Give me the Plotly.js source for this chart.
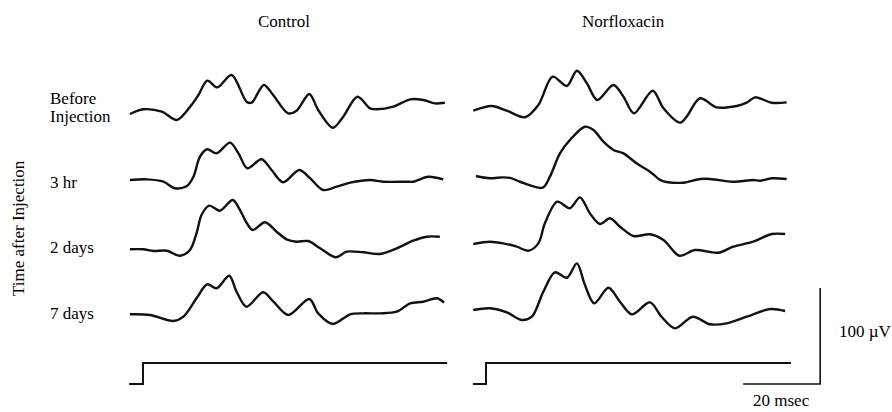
<!DOCTYPE html>
<html>
<head>
<meta charset="utf-8">
<script src="https://cdn.plot.ly/plotly-3.0.1.min.js"></script>
<style>
  html, body { margin: 0; padding: 0; background: #fff; }
  #chart { width: 892px; height: 412px; }
</style>
</head>
<body>
<div id="chart"></div>
<script>
// Averaged evoked potentials: time in msec from stimulus onset, amplitude in µV
const groups = ["Control", "Norfloxacin"];
const conditions = ["Before", "Injection", "3 hr", "2 days", "7 days"];
const axisLabel = "Time after Injection";

// Control
const ctlBeforeT = [-3.4, 0.1, 4.9, 8.8, 12.6, 14.4, 16.7, 19.3, 23.0, 26.9, 28.2, 31.4, 33.8, 37.7, 39.9, 43.2, 45.5, 49.3, 52.0, 55.7, 59.0, 60.7, 65.0, 69.4, 72.8, 75.8, 78.4];
const ctlBeforeV = [-2.1, 2.8, 0.3, -8.3, 7.3, 17.7, 32.6, 25.7, 38.5, 10.7, 9.7, 28.1, 17.7, -1.4, 1.4, 18.8, 2.1, -16.4, -4.9, 15.9, 3.8, 2.8, 5.5, 13.2, 12.5, 9.0, 9.7];

const ctl3hrT = [-3.4, 1.0, 5.3, 8.3, 11.4, 13.1, 14.8, 16.7, 19.1, 22.6, 24.8, 27.1, 30.8, 33.4, 36.4, 40.6, 43.4, 46.8, 50.3, 53.8, 59.0, 62.4, 68.5, 70.2, 74.1, 78.0];
const ctl3hrV = [0, 0.7, -1.8, -8.6, -6.3, 3.4, 24.3, 32.0, 27.8, 38.9, 27.8, 12.2, 21.6, 10.4, -2.4, 10.4, 1.8, -10.4, -6.9, -2.8, 0, -1.8, -1.8, -1.8, 3.4, 0.7];

const ctl2dT = [-3.4, 0.1, 2.7, 6.2, 9.6, 12.2, 13.9, 15.2, 17.2, 20.0, 23.3, 25.2, 27.0, 28.5, 31.7, 34.7, 37.3, 39.9, 42.9, 46.0, 50.1, 52.9, 57.2, 61.6, 65.9, 70.2, 73.7, 77.1];
const ctl2dV = [-0.3, -0.3, -2.1, -1.8, -7.0, -1.0, 16.4, 35.4, 45.1, 39.9, 51.0, 40.6, 26.8, 19.8, 27.8, 18.0, 10.1, 7.6, 8.3, 0.7, -8.6, -2.8, -3.4, -5.2, 0.7, 8.6, 12.8, 12.8];

const ctl7dT = [-3.4, 1.8, 7.9, 10.5, 13.9, 16.7, 19.1, 22.4, 24.3, 26.9, 31.2, 33.9, 37.7, 43.2, 45.5, 49.3, 53.8, 57.2, 61.6, 65.9, 69.4, 72.8, 76.4, 78.2];
const ctl7dV = [-0.3, -1.0, -7.3, -2.8, 16.4, 31.0, 26.8, 39.9, 23.2, 7.6, 22.6, 12.8, -1.0, 15.6, 0.7, -10.4, -0.3, 0.7, 0.7, 2.4, 11.1, 12.8, 16.4, 11.8];

// Norfloxacin
const norBeforeT = [-3.3, 1.5, 5.4, 10.1, 13.6, 17.3, 21.0, 23.6, 26.2, 28.9, 33.1, 35.7, 38.4, 43.3, 46.1, 50.4, 52.1, 55.6, 59.9, 65.1, 67.7, 69.9, 74.2, 78.1];
const norBeforeV = [-0.7, 4.2, -0.7, -7.6, 5.2, 34.7, 25.0, 40.9, 27.8, 10.4, 26.0, 13.9, -3.4, 20.1, 1.8, -13.2, -7.0, 12.2, 2.8, 4.2, 7.6, 13.2, 7.6, 8.0];

const nor3hrT = [-2.6, 1.0, 4.5, 6.7, 8.8, 14.7, 16.6, 19.2, 21.8, 25.7, 27.9, 30.5, 33.1, 35.7, 39.1, 42.6, 45.6, 51.2, 55.6, 58.2, 64.2, 69.4, 71.2, 74.2, 78.1];
const nor3hrV = [2.1, -0.3, 0.7, -0.3, -3.9, -10.1, 1.4, 25.7, 39.6, 53.4, 50.0, 37.8, 29.2, 25.7, 15.3, 6.6, -2.8, -4.9, -1.0, -1.0, -3.9, -2.1, -2.8, -0.3, -1.0];

const nor2dT = [-3.3, 1.0, 4.5, 8.0, 11.0, 13.6, 15.3, 18.5, 21.8, 24.4, 27.0, 29.6, 32.2, 34.8, 38.3, 42.6, 46.1, 50.2, 54.3, 60.3, 64.2, 69.4, 74.2, 77.7];
const nor2dV = [0, 2.4, 0.7, -2.8, -7.0, 0.7, 21.6, 44.1, 37.2, 48.6, 31.9, 20.8, 26.8, 18.0, 8.3, 10.1, 4.2, -12.2, -6.3, -9.1, -2.8, 2.4, 10.4, 10.4];

const nor7dT = [-3.3, 1.0, 5.4, 9.3, 11.9, 14.9, 17.9, 21.0, 23.6, 25.7, 28.1, 31.8, 34.8, 37.9, 42.6, 45.6, 49.1, 53.7, 58.2, 62.5, 67.7, 73.8, 77.7];
const nor7dV = [0, 1.8, -2.4, -10.4, -7.0, 19.1, 39.2, 33.6, 48.6, 26.0, 7.0, 23.2, 8.6, -4.5, 8.0, -7.0, -19.1, -7.0, -14.9, -13.9, -7.0, 1.0, -1.0];

// Stimulus marker (off / on)
const stimCtlT = [-3.6, 0, 0, 79.0];
const stimNorT = [-3.4, 0, 0, 79.2];
const stimLevel = [0, 0, 1, 1];

// Calibration
const scaleMs = 20;
const scaleUv = 100;
const scaleText = ["100 \u00b5V", "20 msec"];

// ---- page geometry ----
const W = 892, H = 412;
const PX_MS = 3.85;      // pixels per msec
const PX_UV = 0.96;      // pixels per µV
const PX_STIM = 21;      // pixels per stimulus step
const ONSET_CTL = 143, ONSET_NOR = 486;
const baseCtl = [112, 180, 249, 314];
const baseNor = [110, 178, 244, 310];
const stimBase = 384;
const barEnd = 86.8;     // ms position of the calibration corner

function xAx(onset, t0, t1) {
  return { range: [t0, t1], domain: [(onset + t0 * PX_MS) / W, (onset + t1 * PX_MS) / W],
           visible: false, fixedrange: true };
}
function yAx(base, v0, v1, ppu, anchor) {
  return { range: [v0, v1],
           domain: [(H - (base - v0 * ppu)) / H, (H - (base - v1 * ppu)) / H],
           visible: false, fixedrange: true, anchor: anchor };
}

const series = [
  [ctlBeforeT, ctlBeforeV, "x", "y"],
  [ctl3hrT, ctl3hrV, "x", "y2"],
  [ctl2dT, ctl2dV, "x", "y3"],
  [ctl7dT, ctl7dV, "x", "y4"],
  [norBeforeT, norBeforeV, "x2", "y5"],
  [nor3hrT, nor3hrV, "x2", "y6"],
  [nor2dT, nor2dV, "x2", "y7"],
  [nor7dT, nor7dV, "x2", "y8"]
];

const ink = "#111";
const traces = series.map(s => ({
  type: "scatter", mode: "lines", x: s[0], y: s[1], xaxis: s[2], yaxis: s[3],
  line: { color: ink, width: 2.4, shape: "spline", smoothing: 0.9 },
  hoverinfo: "skip", showlegend: false
}));

traces.push({ type: "scatter", mode: "lines", x: stimCtlT, y: stimLevel, xaxis: "x", yaxis: "y10",
  line: { color: ink, width: 2 }, hoverinfo: "skip", showlegend: false });
traces.push({ type: "scatter", mode: "lines", x: stimNorT, y: stimLevel, xaxis: "x2", yaxis: "y10",
  line: { color: ink, width: 2 }, hoverinfo: "skip", showlegend: false });
traces.push({ type: "scatter", mode: "lines",
  x: [barEnd - scaleMs, barEnd, barEnd], y: [0, 0, scaleUv], xaxis: "x2", yaxis: "y9",
  line: { color: ink, width: 1.6 }, hoverinfo: "skip", showlegend: false });

const font = { family: "Liberation Serif, Times New Roman, serif", size: 17, color: "#000" };
function note(text, px, py, xanchor, extra) {
  return Object.assign({ text: text, x: px / W, y: 1 - py / H, xref: "paper", yref: "paper",
    xanchor: xanchor, yanchor: "middle", showarrow: false, borderpad: 0, font: font }, extra || {});
}

const layout = {
  width: W, height: H,
  margin: { l: 0, r: 0, t: 0, b: 0 },
  paper_bgcolor: "#fff", plot_bgcolor: "rgba(0,0,0,0)",
  showlegend: false,
  xaxis: xAx(ONSET_CTL, -5, 82),
  xaxis2: xAx(ONSET_NOR, -5, 90),
  yaxis: yAx(baseCtl[0], -60, 60, PX_UV, "x"),
  yaxis2: yAx(baseCtl[1], -60, 60, PX_UV, "x"),
  yaxis3: yAx(baseCtl[2], -60, 60, PX_UV, "x"),
  yaxis4: yAx(baseCtl[3], -60, 60, PX_UV, "x"),
  yaxis5: yAx(baseNor[0], -60, 60, PX_UV, "x2"),
  yaxis6: yAx(baseNor[1], -60, 60, PX_UV, "x2"),
  yaxis7: yAx(baseNor[2], -60, 60, PX_UV, "x2"),
  yaxis8: yAx(baseNor[3], -60, 60, PX_UV, "x2"),
  yaxis9: yAx(stimBase, -5, 110, PX_UV, "x2"),
  yaxis10: yAx(stimBase, -0.5, 1.5, PX_STIM, "x"),
  annotations: [
    note(groups[0], 284, 22, "center"),
    note(groups[1], 623, 22, "center"),
    note(conditions[0], 49, 98, "left"),
    note(conditions[1], 49, 116, "left"),
    note(conditions[2], 49, 182, "left"),
    note(conditions[3], 49, 248, "left"),
    note(conditions[4], 49, 313, "left"),
    note(axisLabel, 18, 228, "center", { textangle: -90 }),
    note(scaleText[0], 838, 331, "left"),
    note(scaleText[1], 781, 400, "center")
  ]
};

Plotly.newPlot("chart", traces, layout, { staticPlot: true, displayModeBar: false });
</script>
</body>
</html>
